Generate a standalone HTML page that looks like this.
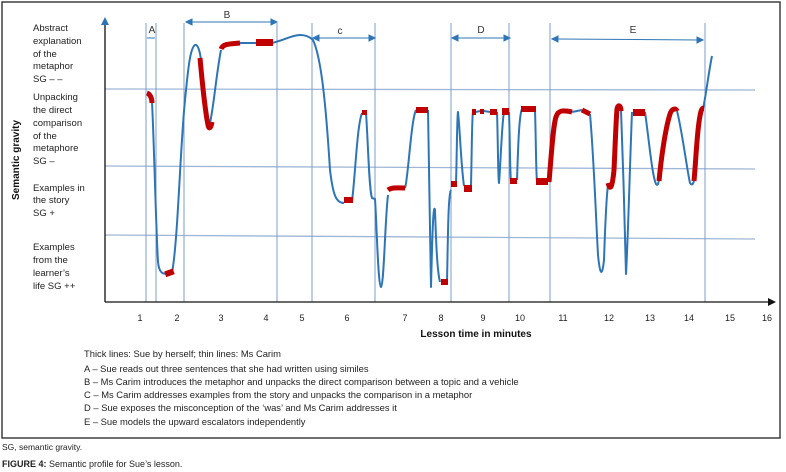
<!DOCTYPE html>
<html><head><meta charset="utf-8"><style>
body{margin:0;background:#fff;width:786px;height:472px;overflow:hidden;font-family:"Liberation Sans Narrow","Liberation Sans",sans-serif}
svg{position:absolute;left:0;top:0}
</style></head><body>
<svg width="786" height="472" viewBox="0 0 786 472" font-family="Liberation Sans Narrow, Liberation Sans, sans-serif">
<rect x="2" y="2" width="778" height="436" fill="none" stroke="#222" stroke-width="1.3"/>
<g stroke="#9fb6d6" stroke-width="1.3">
<line x1="105" y1="89" x2="755" y2="90"/>
<line x1="105" y1="166" x2="755" y2="169"/>
<line x1="105" y1="235" x2="755" y2="239"/>
</g>
<g stroke="#7c9ccb" stroke-width="1">
<line x1="146" y1="23" x2="146" y2="302"/><line x1="156" y1="23" x2="156" y2="302"/>
<line x1="184" y1="23" x2="184" y2="302"/><line x1="277" y1="23" x2="277" y2="302"/>
<line x1="312" y1="23" x2="312" y2="302"/><line x1="375" y1="23" x2="375" y2="302"/>
<line x1="451" y1="23" x2="451" y2="302"/><line x1="509" y1="23" x2="509" y2="302"/>
<line x1="550" y1="23" x2="550" y2="302"/><line x1="705" y1="23" x2="705" y2="302"/>
</g>
<line x1="105" y1="302" x2="770" y2="302" stroke="#111" stroke-width="1.3"/>
<polygon points="776,302 768,298 768,306" fill="#111"/>
<line x1="105" y1="302" x2="105" y2="24" stroke="#111" stroke-width="1.3"/>
<polygon points="105,17 101,25 109,25" fill="#2e75b6"/>
<g stroke="#2e75b6" stroke-width="1" fill="#2e75b6">
<line x1="147" y1="38" x2="155" y2="38"/>
<line x1="188" y1="22" x2="275" y2="22"/><polygon points="186,22 192,19 192,25"/><polygon points="277,22 271,19 271,25"/>
<line x1="316" y1="38" x2="373" y2="38"/><polygon points="313,38 319,35 319,41"/><polygon points="375,38 369,35 369,41"/>
<line x1="455" y1="38" x2="508" y2="38"/><polygon points="452,38 458,35 458,41"/><polygon points="510,38 504,35 504,41"/>
<line x1="556" y1="39" x2="700" y2="40"/><polygon points="552,39 558,36 558,42"/><polygon points="703,40 697,37 697,43"/>
</g>
<g font-size="10" fill="#333" text-anchor="middle">
<text x="152" y="33">A</text><text x="227" y="18">B</text><text x="340" y="34">c</text>
<text x="481" y="33">D</text><text x="633" y="33">E</text>
</g>
<path fill="none" stroke="#2e75b6" stroke-width="2" stroke-linejoin="round" d="
M152,102 C154,140 156,230 158,262 C159,272 162,274 167,274
M172,273 C178,240 180,150 185,100 C188,70 190,48 195,45 C198,44 200,52 201,60
M209,127 C213,115 216,75 221,50
M240,43 L256,43
M272,43 C285,40 292,35 300,35 C306,35 310,37 313,40 C320,55 325,90 330,170 C333,195 336,203 344,203
M352,201 C355,180 357,125 362,113
M366,113 C368,140 369,190 372,198 L375,199 C377,230 378,285 381,287 C384,285 385,220 388,195
M405,188 C408,180 411,120 416,110
M428,110 C429,150 430,200 431,287 C432,250 433,200 435,210 C436,240 437,270 440,282
M447,281 C448,240 448,195 451,190
M456,184 C457,150 457,115 458,112 C460,130 461,165 464,186
M471,186 C472,140 472,115 473,112
M476,112 L480,111 M484,111 L490,112
M497,112 C498,140 498,180 499,183 C500,175 502,120 504,112
M509,112 C510,140 510,175 511,181
M517,180 C518,150 519,115 522,109
M535,110 C536,140 536,175 537,181
M572,112 L582,110
M590,114 C594,160 596,220 598,255 C600,275 602,278 604,260 C605,230 606,200 608,185
M621,110 C623,160 625,230 626,274 C628,240 630,160 632,112
M645,112 C649,140 652,175 656,184 C658,186 658,184 659,180
M677,111 C682,130 687,170 690,183 C692,186 693,184 694,181
M703,109 C706,95 709,70 712,56"/>
<g fill="none" stroke="#c00000" stroke-width="5" stroke-linejoin="round" stroke-linecap="butt">
<path d="M147,93 C150,94 152,98 152,103"/>
<path d="M200,58 C202,80 205,110 208,125 C209,130 211,128 212,122"/>
<path d="M221,49 C223,44 228,44 240,43"/>
<path d="M388,190 C392,187 398,188 405,188"/>
<path d="M549,182 C551,160 553,125 556,117 C558,110 563,110 572,112"/>
<path d="M582,110 L590,114"/>
<path d="M608,183 C610,190 612,190 614,170 C615,150 616,120 617,109 C618,104 621,105 621,111"/>
<path d="M659,181 C661,160 665,130 670,114 C672,108 676,108 677,111"/>
<path d="M694,181 C696,160 697,130 700,116 C701,110 702,108 704,108"/>
</g>
<g fill="#c00000">
<rect x="165" y="270" width="9" height="6" transform="rotate(-20 169 273)"/>
<rect x="256" y="39" width="17" height="7"/>
<rect x="344" y="197" width="9" height="6"/>
<rect x="362" y="110" width="5" height="5"/>
<rect x="416" y="107" width="12" height="6"/>
<rect x="441" y="279" width="7" height="6"/>
<rect x="451" y="181" width="6" height="6"/>
<rect x="464" y="185" width="8" height="7"/>
<rect x="472" y="109" width="4" height="6"/>
<rect x="480" y="109" width="4" height="5"/>
<rect x="490" y="109" width="7" height="6"/>
<rect x="502" y="108" width="7" height="7"/>
<rect x="510" y="178" width="7" height="6"/>
<rect x="521" y="106" width="15" height="6"/>
<rect x="536" y="178" width="12" height="7"/>
<rect x="633" y="109" width="12" height="7"/>
</g>
<g font-size="9.5" fill="#222">
<text x="33" y="31">Abstract</text><text x="33" y="44">explanation</text><text x="33" y="57">of the</text><text x="33" y="69">metaphor</text><text x="33" y="82">SG – –</text>
<text x="33" y="100">Unpacking</text><text x="33" y="113">the direct</text><text x="33" y="126">comparison</text><text x="33" y="139">of the</text><text x="33" y="151">metaphore</text><text x="33" y="164">SG –</text>
<text x="33" y="191">Examples in</text><text x="33" y="203">the story</text><text x="33" y="216">SG +</text>
<text x="33" y="250">Examples</text><text x="33" y="263">from the</text><text x="33" y="276">learner’s</text><text x="33" y="289">life SG ++</text>
</g>
<text transform="translate(19,160) rotate(-90)" font-size="10" font-weight="bold" text-anchor="middle" fill="#111">Semantic gravity</text>
<g font-size="9" fill="#222" text-anchor="middle">
<text x="140" y="321">1</text><text x="177" y="321">2</text><text x="221" y="321">3</text><text x="266" y="321">4</text>
<text x="302" y="321">5</text><text x="347" y="321">6</text><text x="405" y="321">7</text><text x="441" y="321">8</text>
<text x="483" y="321">9</text><text x="520" y="321">10</text><text x="563" y="321">11</text><text x="609" y="321">12</text>
<text x="650" y="321">13</text><text x="689" y="321">14</text><text x="730" y="321">15</text><text x="767" y="321">16</text>
</g>
<text x="476" y="337" font-size="10" font-weight="bold" text-anchor="middle" fill="#111">Lesson time in minutes</text>
<g font-size="9.4" fill="#222">
<text x="84" y="357">Thick lines: Sue by herself; thin lines: Ms Carim</text>
<text x="84" y="372">A – Sue reads out three sentences that she had written using similes</text>
<text x="84" y="385">B – Ms Carim introduces the metaphor and unpacks the direct comparison between a topic and a vehicle</text>
<text x="84" y="398">C – Ms Carim addresses examples from the story and unpacks the comparison in a metaphor</text>
<text x="84" y="411">D – Sue exposes the misconception of the ‘was’ and Ms Carim addresses it</text>
<text x="84" y="425">E – Sue models the upward escalators independently</text>
</g>
<text x="2" y="450" font-size="8.5" fill="#222">SG, semantic gravity.</text>
<text x="2" y="467" font-size="9" fill="#222"><tspan font-weight="bold">FIGURE 4:</tspan> Semantic profile for Sue’s lesson.</text>
</svg>
</body></html>
